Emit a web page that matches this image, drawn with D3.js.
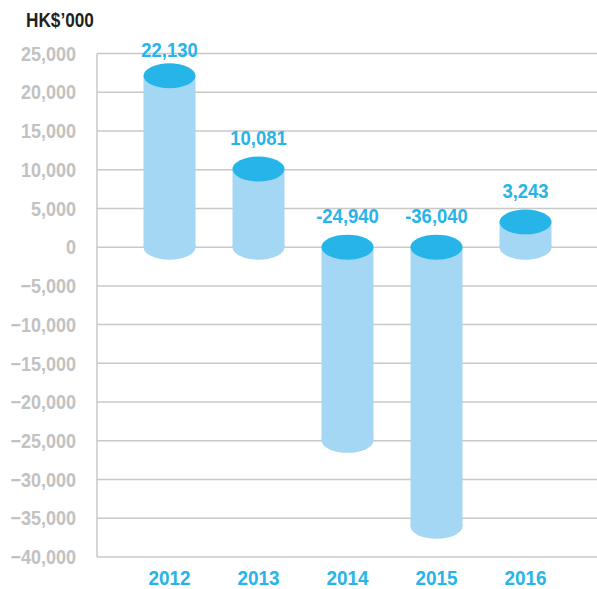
<!DOCTYPE html>
<html>
<head>
<meta charset="utf-8">
<script src="https://cdn.jsdelivr.net/npm/d3@7"></script>
<style>
  body { margin: 0; background: #fff; }
  text { font-family: "Liberation Sans", Arial, sans-serif; font-weight: bold; }
</style>
</head>
<body>
<div id="chart"></div>
<script>
var years = ["2012", "2013", "2014", "2015", "2016"];
var values = [22130, 10081, -24940, -36040, 3243];
var valueLabels = ["22,130", "10,081", "-24,940", "-36,040", "3,243"];
var yTicks = [25000, 20000, 15000, 10000, 5000, 0, -5000, -10000, -15000, -20000, -25000, -30000, -35000, -40000];

var width = 597, height = 589;
var margin = {left: 97, right: 0, top: 53, bottom: 32};

var svg = d3.select("#chart")
    .append("svg")
    .attr("width", width)
    .attr("height", height);

var y = d3.scaleLinear()
    .domain([-40000, 25000])
    .range([557, 53.5]);

var x = d3.scaleBand()
    .domain(years)
    .range([125, 570]);

var rx = 26, ry = 12.5;

// condensed look: squeeze text horizontally
function narrow(px, py, sx) {
    return "translate(" + px + "," + py + ") scale(" + sx + ",1)";
}

// grid lines
svg.append("g")
    .selectAll("line")
    .data(yTicks)
    .enter()
    .append("line")
    .attr("x1", margin.left)
    .attr("x2", width)
    .attr("y1", function (d) { return y(d); })
    .attr("y2", function (d) { return y(d); })
    .style("stroke", "#c8c8c8")
    .style("stroke-width", 1.5);

// left axis line
svg.append("line")
    .attr("x1", margin.left)
    .attr("x2", margin.left)
    .attr("y1", y(25000))
    .attr("y2", y(-40000))
    .style("stroke", "#c8c8c8")
    .style("stroke-width", 1.5);

// y tick labels
svg.append("g")
    .selectAll("text")
    .data(yTicks)
    .enter()
    .append("text")
    .attr("transform", function (d) { return narrow(76, y(d), 0.9); })
    .attr("dy", "0.36em")
    .style("text-anchor", "end")
    .style("font-size", "20px")
    .style("fill", "#c2c2c2")
    .text(function (d) { return d3.format(",")(d); });

// title
svg.append("text")
    .attr("transform", narrow(26, 27, 0.86))
    .style("font-size", "20px")
    .style("fill", "#231f20")
    .text("HK$\u2019000");

// cylinders
var bars = svg.append("g")
    .selectAll("g")
    .data(years)
    .enter()
    .append("g");

bars.each(function (yr, i) {
    var g = d3.select(this);
    var cx = x(yr) + x.bandwidth() / 2;
    var yTop = y(Math.max(values[i], 0));
    var yBot = y(Math.min(values[i], 0));
    g.append("rect")
        .attr("x", cx - rx)
        .attr("y", yTop)
        .attr("width", rx * 2)
        .attr("height", yBot - yTop)
        .style("fill", "#a3d7f3");
    g.append("ellipse")
        .attr("cx", cx)
        .attr("cy", yTop)
        .attr("rx", rx)
        .attr("ry", ry)
        .style("fill", "#27b5e9");
    // bottom cap drawn last, it laps over the top on short bars
    g.append("ellipse")
        .attr("cx", cx)
        .attr("cy", yBot)
        .attr("rx", rx)
        .attr("ry", ry)
        .style("fill", "#a3d7f3");
    g.append("text")
        .attr("transform", narrow(cx, Math.max(yTop - ry - 12, 57), 0.88))
        .style("text-anchor", "middle")
        .style("font-size", "21px")
        .style("fill", "#27b5e9")
        .text(valueLabels[i]);
});

// x labels
svg.append("g")
    .selectAll("text")
    .data(years)
    .enter()
    .append("text")
    .attr("transform", function (d) { return narrow(x(d) + x.bandwidth() / 2, 585, 0.9); })
    .style("text-anchor", "middle")
    .style("font-size", "21px")
    .style("fill", "#27b5e9")
    .text(function (d) { return d; });
</script>
</body>
</html>
